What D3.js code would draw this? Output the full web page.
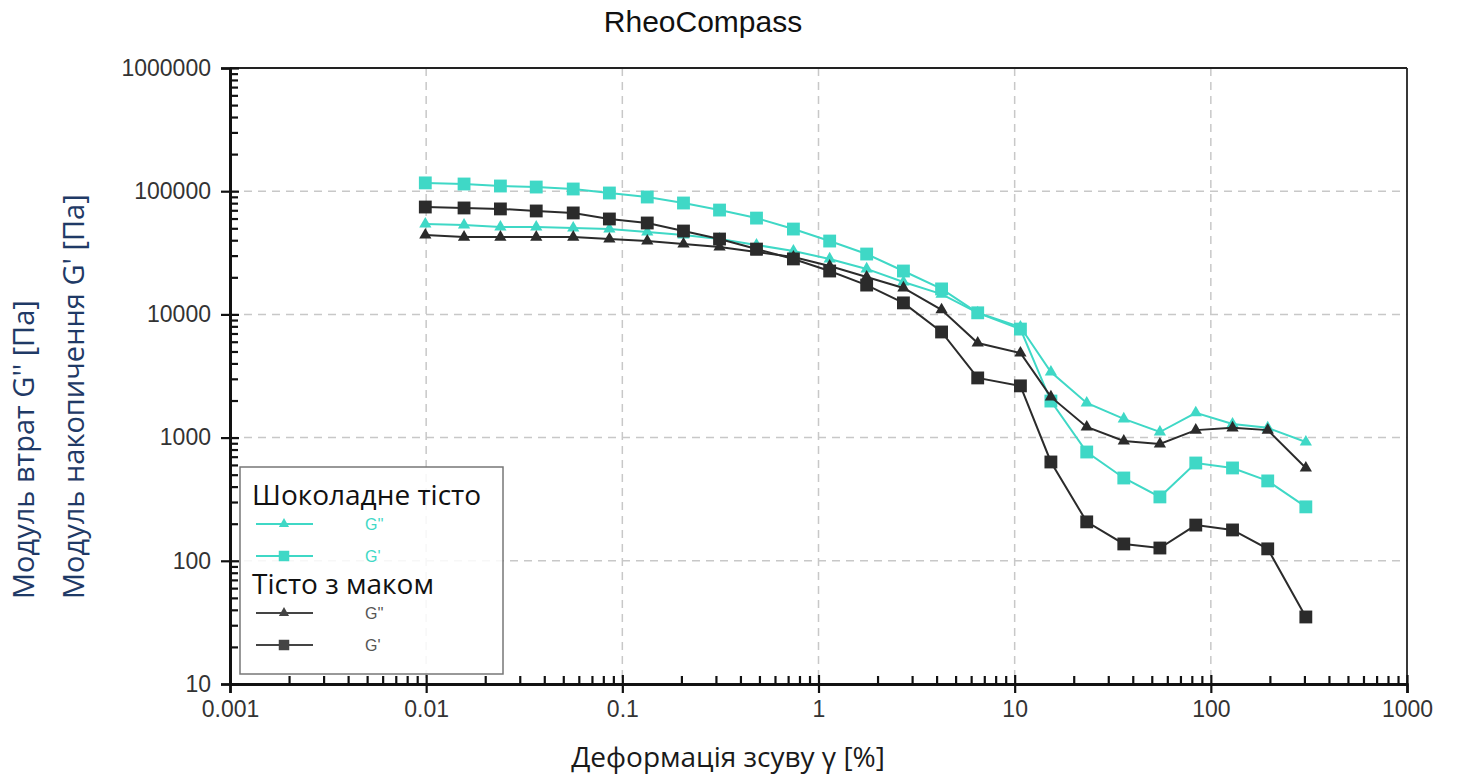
<!DOCTYPE html>
<html>
<head>
<meta charset="utf-8">
<script src="https://cdn.jsdelivr.net/npm/d3@7"></script>
<style>
  body { margin: 0; background: #fff; }
  svg { display: block; }
  .grid line { stroke: #c8c8c8; stroke-width: 1.5; stroke-dasharray: 8 6; }
</style>
</head>
<body>
<svg width="1458" height="775"></svg>
<script>
// strain [%] and moduli [Pa]
var strain = [0.0099, 0.0156, 0.0239, 0.0364, 0.0562, 0.0859, 0.134, 0.205, 0.313, 0.483,
              0.745, 1.14, 1.76, 2.71, 4.24, 6.48, 10.7, 15.3, 23.3, 36.0,
              55.0, 83.8, 129, 195, 305];
var chocGpp = [54200, 53200, 51200, 51200, 50200, 49300, 46600, 44100, 40900, 36600,
               32700, 28200, 23400, 18300, 14600, 10300, 7900, 3410, 1910, 1420,
               1110, 1590, 1290, 1200, 920];
var chocGp = [116800, 114400, 110200, 108100, 104200, 96700, 89700, 80200, 70300, 60500,
              49300, 39400, 30900, 22500, 16100, 10300, 7600, 1980, 764, 470,
              330, 622, 567, 445, 274];
var poppyGpp = [44100, 42400, 42400, 42400, 42400, 40900, 39400, 37300, 35200, 32100,
                29200, 24700, 20100, 16400, 10900, 5860, 4860, 2140, 1220, 938,
                887, 1150, 1200, 1150, 567];
var poppyGp = [74400, 73100, 71800, 69100, 66600, 59500, 55200, 47500, 40900, 33900,
               28200, 22500, 17300, 12400, 7200, 3050, 2630, 634, 207, 137,
               127, 195, 178, 125, 35];

var xTicks = [0.001, 0.01, 0.1, 1, 10, 100, 1000];
var yTicks = [10, 100, 1000, 10000, 100000, 1000000];

var cyan = "#3fd8c6", dark = "#2b2b2b";

var svg = d3.select("svg");
var plotLeft = 230, plotRight = 1407, plotTop = 68, plotBottom = 684;

var x = d3.scaleLog().domain([0.001, 1000]).range([plotLeft, plotRight]);
var y = d3.scaleLog().domain([10, 1000000]).range([plotBottom, plotTop]);

// minor tick values 2..9 in every decade
function minors(lo, hi) {
  var out = [];
  for (var p = lo; p < hi; p *= 10)
    for (var m = 2; m < 10; m++) out.push(m * p);
  return out;
}

// title
svg.append("text")
  .attr("x", 703).attr("y", 32)
  .attr("text-anchor", "middle")
  .attr("font-family", "Liberation Sans, Arial, sans-serif")
  .attr("font-size", "30px")
  .attr("fill", "#111")
  .text("RheoCompass");

// grid
var grid = svg.append("g").attr("class", "grid");
grid.selectAll(".gx").data(xTicks.slice(1, -1)).enter().append("line")
  .attr("x1", function(d) { return x(d); }).attr("x2", function(d) { return x(d); })
  .attr("y1", plotTop).attr("y2", plotBottom);
grid.selectAll(".gy").data(yTicks.slice(1, -1)).enter().append("line")
  .attr("y1", function(d) { return y(d); }).attr("y2", function(d) { return y(d); })
  .attr("x1", plotLeft).attr("x2", plotRight);

// frame top and right
svg.append("line").attr("x1", plotLeft).attr("x2", plotRight).attr("y1", plotTop).attr("y2", plotTop)
  .attr("stroke", "#222").attr("stroke-width", 1.8);
svg.append("line").attr("x1", plotRight).attr("x2", plotRight).attr("y1", plotTop).attr("y2", plotBottom)
  .attr("stroke", "#222").attr("stroke-width", 1.8);

var tickFont = "Liberation Sans, Arial, sans-serif";

// y axis: labels + outer half of major ticks
svg.append("g").attr("transform", "translate(" + plotLeft + ",0)")
  .call(d3.axisLeft(y).tickValues(yTicks).tickFormat(d3.format("d")).tickSize(9).tickPadding(10));
// inner half of major ticks and minor ticks
svg.append("g").attr("transform", "translate(" + plotLeft + ",0)")
  .call(d3.axisRight(y).tickValues(yTicks).tickFormat("").tickSize(9).tickSizeOuter(0));
svg.append("g").attr("transform", "translate(" + plotLeft + ",0)")
  .call(d3.axisRight(y).tickValues(minors(10, 1000000)).tickFormat("").tickSize(8).tickSizeOuter(0));

// x axis
svg.append("g").attr("transform", "translate(0," + plotBottom + ")")
  .call(d3.axisBottom(x).tickValues(xTicks).tickFormat(function(d) { return String(d); }).tickSize(9).tickPadding(8));
svg.append("g").attr("transform", "translate(0," + plotBottom + ")")
  .call(d3.axisTop(x).tickValues(xTicks).tickFormat("").tickSize(9).tickSizeOuter(0));
svg.append("g").attr("transform", "translate(0," + plotBottom + ")")
  .call(d3.axisTop(x).tickValues(minors(0.001, 1000)).tickFormat("").tickSize(8).tickSizeOuter(0));

svg.selectAll(".domain").attr("stroke", "#111").attr("stroke-width", 2.6);
svg.selectAll(".tick line").attr("stroke", "#111").attr("stroke-width", 2.2);
svg.selectAll(".tick text").attr("font-family", tickFont).attr("font-size", "23px").attr("fill", "#333");

// axis titles
svg.append("text")
  .attr("transform", "translate(" + 728 + "," + 767 + ")")
  .attr("text-anchor", "middle")
  .attr("font-family", "Open Sans, sans-serif")
  .attr("font-size", "28px")
  .attr("fill", "#1a1a1a")
  .text("Деформація зсуву γ [%]");

svg.append("text")
  .attr("transform", "translate(34,599) rotate(-90)")
  .attr("font-family", "Open Sans, sans-serif")
  .attr("font-size", "29px")
  .attr("fill", "#1f3a66")
  .text("Модуль втрат G'' [Па]");

svg.append("text")
  .attr("transform", "translate(84,599) rotate(-90)")
  .attr("font-family", "Open Sans, sans-serif")
  .attr("font-size", "29px")
  .attr("fill", "#1f3a66")
  .text("Модуль накопичення G' [Па]");

// series
var series = [
  { vals: chocGpp, color: cyan, shape: "tri" },
  { vals: chocGp, color: cyan, shape: "sq" },
  { vals: poppyGpp, color: dark, shape: "tri" },
  { vals: poppyGp, color: dark, shape: "sq" }
];

var line = d3.line()
  .x(function(d) { return x(d[0]); })
  .y(function(d) { return y(d[1]); });

var triSym = d3.symbol().type(d3.symbolTriangle).size(65);
var sqSym = d3.symbol().type(d3.symbolSquare).size(165);

series.forEach(function(s) {
  var pts = strain.map(function(v, i) { return [v, s.vals[i]]; });
  svg.append("path").datum(pts)
    .attr("fill", "none")
    .attr("stroke", s.color)
    .attr("stroke-width", 2)
    .attr("d", line);
  svg.selectAll(null).data(pts).enter().append("path")
    .attr("transform", function(d) { return "translate(" + x(d[0]) + "," + y(d[1]) + ")"; })
    .attr("d", s.shape === "tri" ? triSym : sqSym)
    .attr("fill", s.color);
});

// legend
var lg = svg.append("g");
lg.append("rect")
  .attr("x", 240).attr("y", 467).attr("width", 263).attr("height", 207)
  .attr("fill", "rgba(255,255,255,0.85)")
  .attr("stroke", "#777").attr("stroke-width", 1.5);

var legendFont = "Open Sans, sans-serif";
lg.append("text").attr("x", 252).attr("y", 505)
  .attr("font-family", legendFont).attr("font-size", "28px").attr("fill", "#111")
  .text("Шоколадне тісто");
lg.append("text").attr("x", 252).attr("y", 594)
  .attr("font-family", legendFont).attr("font-size", "28px").attr("fill", "#111")
  .text("Тісто з маком");

var legendRows = [
  { y: 524, color: cyan, shape: "tri", label: "G''", text: cyan },
  { y: 556, color: cyan, shape: "sq", label: "G'", text: cyan },
  { y: 613, color: "#444", shape: "tri", label: "G''", text: "#555" },
  { y: 645, color: "#444", shape: "sq", label: "G'", text: "#555" }
];
legendRows.forEach(function(r) {
  lg.append("line").attr("x1", 256).attr("x2", 313).attr("y1", r.y).attr("y2", r.y)
    .attr("stroke", r.color).attr("stroke-width", 2);
  lg.append("path")
    .attr("transform", "translate(284," + r.y + ")")
    .attr("d", r.shape === "tri" ? d3.symbol().type(d3.symbolTriangle).size(45)() : d3.symbol().type(d3.symbolSquare).size(110)())
    .attr("fill", r.color);
  lg.append("text").attr("x", 365).attr("y", r.y + 6)
    .attr("font-family", tickFont).attr("font-size", "16px").attr("fill", r.text)
    .text(r.label);
});
</script>
</body>
</html>
